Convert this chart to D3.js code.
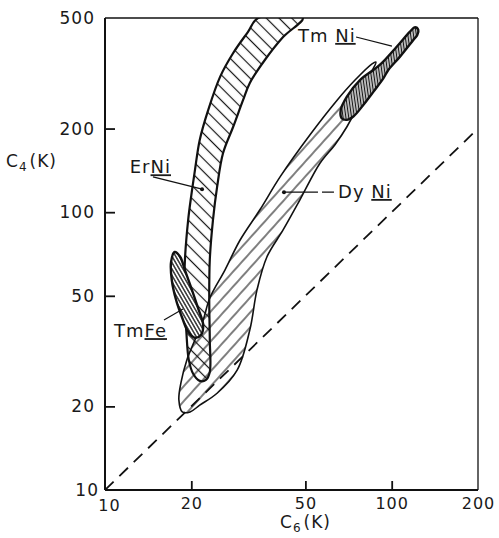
<!DOCTYPE html>
<html>
<head>
<meta charset="utf-8">
<script src="https://cdn.jsdelivr.net/npm/d3@7"></script>
<style>
  body { margin: 0; background: #fff; }
  svg { display: block; font-family: "DejaVu Sans", sans-serif; }
</style>
</head>
<body>
<script>
// tick values of the two log axes
var xTicks = [10, 20, 50, 100, 200];
var yTicks = [10, 20, 50, 100, 200, 500];

// region outlines, [C6, C4] in K
var erNi = [
  [34.2, 500], [31.5, 445], [28.0, 374], [25.2, 307], [22.9, 233], [21.4, 182],
  [20.6, 142], [20.0, 115], [19.5, 93.7], [19.0, 67.3], [18.9, 48.3], [19.2, 37.7],
  [19.6, 29.4], [20.3, 26.2], [21.4, 24.7], [22.5, 24.9],
  [23.2, 26.6], [23.2, 34.7], [23.1, 48.3], [23.2, 67.3], [23.8, 93.7], [24.6, 123],
  [25.8, 163], [28.0, 203], [30.3, 253], [32.0, 292], [36.1, 353], [41.8, 427], [49.0, 500]
];
var dyNi = [
  [18.6, 19.1], [18.1, 21.1], [18.4, 24.3], [19.3, 29.4], [20.6, 34.7], [22.0, 40.9],
  [23.2, 49.1], [26.2, 61.9], [29.6, 79.4], [34.7, 102], [40.8, 134], [51.9, 190],
  [64.5, 253], [74.5, 299], [85.4, 342], [88.1, 347],
  [84.0, 312], [75.7, 239], [69.8, 203], [63.4, 175], [56.2, 150], [47.9, 111],
  [41.8, 86.3], [36.7, 69.0], [33.9, 52.5], [32.0, 37.7], [28.9, 27.0], [24.6, 22.3],
  [21.4, 20.2], [19.8, 19.1]
];
var tmNi = [
  [66.9, 218], [66.4, 233], [69.7, 260], [77.5, 299], [86.3, 325], [92.3, 344],
  [104.1, 394], [115.8, 447], [120.6, 463], [123.8, 453], [122.8, 434], [119.0, 417],
  [106.9, 363], [97.3, 325], [93.5, 303], [86.3, 271], [79.6, 243], [73.5, 221], [69.7, 215]
];
var tmFe = [
  [17.5, 71.9], [17.0, 66.2], [17.1, 57.0], [17.7, 48.3], [18.6, 41.6], [19.5, 37.1],
  [20.6, 35.3], [21.6, 36.1], [22.0, 39.3], [21.1, 45.2], [20.1, 52.5], [19.0, 61.9], [18.3, 69.0]
];

// C4 = C6 reference line
var diagonal = [[10, 10], [200, 200]];

// labels: [text, underlined part]
var labelNames = [['Er', 'Ni'], ['Dy ', 'Ni'], ['Tm ', 'Ni'], ['Tm', 'Fe']];
// label anchors and leader lines, in [C6, C4]
var labelAt = [[12.2, 138], [65.0, 112.5], [47.1, 410], [10.75, 35.5]];
var leaderFrom = [[14.7, 134], [42.1, 118], [75.1, 427], [16.06, 40.9]];
var leaderTo = [[21.8, 121], [62.9, 118], [100.2, 396], [18.7, 44.8]];

var width = 499, height = 538;
var x = d3.scaleLog().domain([10, 200]).range([105, 478]);
var y = d3.scaleLog().domain([10, 500]).range([490, 18]);

var svg = d3.select('body').append('svg')
  .attr('width', width)
  .attr('height', height);

var defs = svg.append('defs');
defs.append('clipPath').attr('id', 'plot')
  .append('rect')
  .attr('x', x(10)).attr('y', y(500))
  .attr('width', x(200) - x(10)).attr('height', y(10) - y(500));

// simple line hatching
function hatch(id, gap, angle, sw) {
  var p = defs.append('pattern')
    .attr('id', id)
    .attr('patternUnits', 'userSpaceOnUse')
    .attr('width', gap).attr('height', gap)
    .attr('patternTransform', 'rotate(' + angle + ')');
  p.append('line')
    .attr('x1', gap / 2).attr('y1', 0).attr('x2', gap / 2).attr('y2', gap)
    .attr('stroke', '#151515').attr('stroke-width', sw);
}
hatch('h-er', 9, -45, 1.2);
hatch('h-dy', 10, 42, 1.1);
hatch('h-tmfe', 3.2, -30, 1.3);
hatch('h-tmni', 2.8, -8, 1.5);

var shape = d3.line()
  .x(function (d) { return x(d[0]); })
  .y(function (d) { return y(d[1]); })
  .curve(d3.curveCatmullRomClosed.alpha(0.5));

var plot = svg.append('g').attr('clip-path', 'url(#plot)');

// dashed C4 = C6 line
plot.append('path')
  .attr('d', d3.line().x(function (d) { return x(d[0]); }).y(function (d) { return y(d[1]); })(diagonal))
  .attr('fill', 'none')
  .attr('stroke', '#111')
  .attr('stroke-width', 1.8)
  .attr('stroke-dasharray', '12,8');

// DyNi and ErNi bands, hatching overlaps into a cross-hatch
plot.append('path').attr('d', shape(dyNi)).attr('fill', 'url(#h-dy)');
plot.append('path').attr('d', shape(erNi)).attr('fill', 'url(#h-er)');
plot.append('path').attr('d', shape(dyNi))
  .attr('fill', 'none').attr('stroke', '#111').attr('stroke-width', 1.6);
plot.append('path').attr('d', shape(erNi))
  .attr('fill', 'none').attr('stroke', '#111').attr('stroke-width', 2.2);

// small dense regions
[[tmFe, 'h-tmfe'], [tmNi, 'h-tmni']].forEach(function (r) {
  plot.append('path').attr('d', shape(r[0])).attr('fill', '#fff');
  plot.append('path').attr('d', shape(r[0])).attr('fill', 'url(#' + r[1] + ')');
  plot.append('path').attr('d', shape(r[0]))
    .attr('fill', 'none').attr('stroke', '#111').attr('stroke-width', 2.4);
});

// frame
var frame = svg.append('g').attr('stroke', '#111').attr('fill', 'none');
frame.append('line').attr('x1', x(10)).attr('y1', y(500)).attr('x2', x(10)).attr('y2', y(10)).attr('stroke-width', 2);
frame.append('line').attr('x1', x(10)).attr('y1', y(10)).attr('x2', x(200)).attr('y2', y(10)).attr('stroke-width', 2);
frame.append('line').attr('x1', x(10)).attr('y1', y(500)).attr('x2', x(200)).attr('y2', y(500)).attr('stroke-width', 1.4);
frame.append('line').attr('x1', x(200)).attr('y1', y(500)).attr('x2', x(200)).attr('y2', y(10)).attr('stroke-width', 1.3);

// axes: inward ticks, no domain line
var yAxis = svg.append('g')
  .attr('transform', 'translate(' + x(10) + ',0)')
  .call(d3.axisLeft(y).tickValues(yTicks).tickFormat(d3.format('d')).tickSize(-10).tickPadding(10));
var xAxis = svg.append('g')
  .attr('transform', 'translate(0,' + y(10) + ')')
  .call(d3.axisBottom(x).tickValues(xTicks).tickFormat(d3.format('d')).tickSize(-9).tickPadding(8));

[yAxis, xAxis].forEach(function (a) {
  a.select('.domain').remove();
  a.selectAll('.tick line').attr('stroke', '#111').attr('stroke-width', 1.8);
  a.selectAll('.tick text')
    .attr('fill', '#1a1a1a')
    .style('font-family', '"DejaVu Sans", sans-serif')
    .style('font-size', '17px')
    .style('letter-spacing', '1px');
});
xAxis.selectAll('.tick text').style('font-size', '16px');
yAxis.selectAll('.tick').filter(function (d) { return d === 10 || d === 500; }).select('line').remove();
xAxis.selectAll('.tick').filter(function (d) { return d === 10 || d === 200; }).select('line').remove();
yAxis.selectAll('.tick').filter(function (d) { return d === 10; }).select('text').attr('x', -6);
xAxis.selectAll('.tick').filter(function (d) { return d === 10; }).select('text').attr('dx', 4).attr('y', 10);

// axis titles with subscripts
function title(tx, ty, sub) {
  var t = svg.append('text')
    .attr('x', tx).attr('y', ty)
    .attr('fill', '#1a1a1a')
    .style('font-size', '17px')
    .style('letter-spacing', '1px');
  t.append('tspan').text('C');
  t.append('tspan').attr('dy', 4).style('font-size', '12px').text(sub);
  t.append('tspan').attr('dy', -4).attr('dx', 2).text('(K)');
}
title(6, 167, '4');
title(280, 528, '6');

// region labels with leader lines
labelNames.forEach(function (n, i) {
  var t = svg.append('text')
    .attr('x', x(labelAt[i][0])).attr('y', y(labelAt[i][1]))
    .attr('fill', '#1a1a1a')
    .style('font-size', '18px')
    .style('letter-spacing', '1px');
  t.append('tspan').text(n[0]);
  t.append('tspan').attr('text-decoration', 'underline').text(n[1]);

  svg.append('line')
    .attr('x1', x(leaderFrom[i][0])).attr('y1', y(leaderFrom[i][1]))
    .attr('x2', x(leaderTo[i][0])).attr('y2', y(leaderTo[i][1]))
    .attr('stroke', '#111').attr('stroke-width', 1.2)
    .attr('stroke-dasharray', i === 1 ? '34,4,12' : null);
});
// arrow dots on ErNi and DyNi leaders
svg.append('circle').attr('cx', x(leaderTo[0][0])).attr('cy', y(leaderTo[0][1])).attr('r', 2).attr('fill', '#111');
svg.append('circle').attr('cx', x(leaderFrom[1][0])).attr('cy', y(leaderFrom[1][1])).attr('r', 2).attr('fill', '#111');
</script>
</body>
</html>
